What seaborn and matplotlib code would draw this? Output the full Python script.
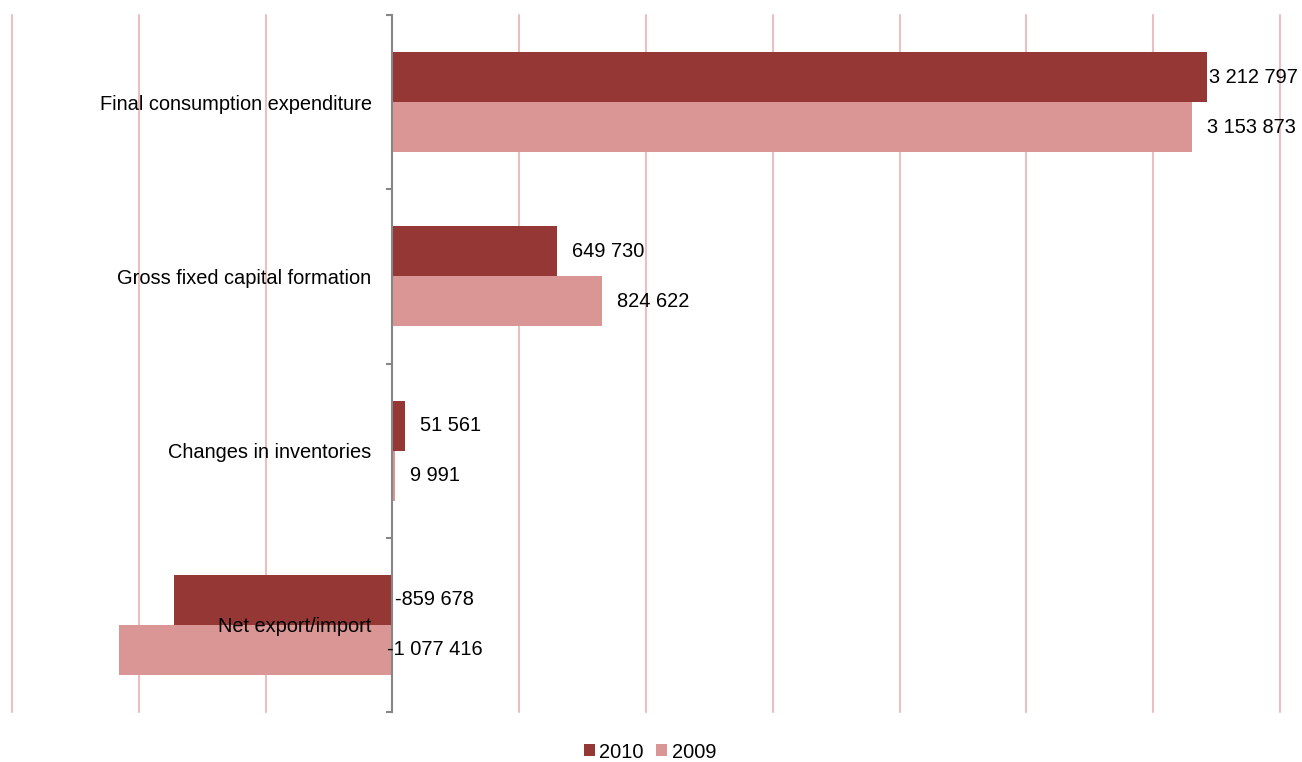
import matplotlib
matplotlib.use("Agg")
import matplotlib.pyplot as plt
import seaborn as sns
import pandas as pd
from matplotlib.patches import Patch

categories = ["Final consumption expenditure", "Gross fixed capital formation",
              "Changes in inventories", "Net export/import"]
values_2010 = [3212797, 649730, 51561, -859678]
values_2009 = [3153873, 824622, 9991, -1077416]
years = ["2010", "2009"]
colors = ["#953735", "#D99694"]

df = pd.DataFrame({
    "category": categories * 2,
    "value": values_2010 + values_2009,
    "year": [years[0]] * 4 + [years[1]] * 4,
})

sns.set_style("white")
plt.rcParams["font.family"] = ["Liberation Sans", "DejaVu Sans"]
plt.rcParams["text.color"] = "black"

FS = 14.4
W, H = 1302, 762
fig = plt.figure(figsize=(W / 100, H / 100), dpi=100)
ax = fig.add_axes([12 / W, 1 - 712 / H, (1280 - 12) / W, (712 - 15) / H])

sns.barplot(data=df, y="category", x="value", hue="year", hue_order=years,
            palette=colors, width=0.575, orient="h", ax=ax, legend=False,
            saturation=1, linewidth=0, zorder=2)

ax.set_xlim(-1500000, 3500000)
ax.set_ylim(3.5, -0.5)
ax.set_xlabel("")
ax.set_ylabel("")
ax.set_xticks([-1500000 + 500000 * i for i in range(11)])
ax.set_xticklabels([])
ax.tick_params(axis="x", length=0)
for xv in ax.get_xticks():
    ax.axvline(xv, color="#EBBFBF", lw=1.5, zorder=0, clip_on=False)

for s in ["top", "right", "bottom"]:
    ax.spines[s].set_visible(False)
ax.spines["left"].set_position(("data", 0))
ax.spines["left"].set_color("#868686")
ax.spines["left"].set_linewidth(1.5)
ax.spines["left"].set_zorder(3)
ax.yaxis.set_zorder(5)

ax.set_yticks(range(4))
ax.set_yticklabels(categories, fontsize=FS, color="black")
ax.tick_params(axis="y", which="major", left=False, length=0, pad=15)
ax.set_yticks([-0.5, 0.5, 1.5, 2.5, 3.5], minor=True)
ax.tick_params(axis="y", which="minor", left=True, length=4, width=1.5,
               color="#868686", direction="out")

fig.canvas.draw()
renderer = fig.canvas.get_renderer()
for cont in ax.containers:
    for bar in cont:
        val = int(round(bar.get_width()))
        yc = bar.get_y() + bar.get_height() / 2
        txt = ("-" if val < 0 else "") + f"{abs(val):,}".replace(",", " ")
        if val >= 0:
            t = ax.annotate(txt, xy=(val, yc), xytext=(15, 0), textcoords="offset pixels",
                            ha="left", va="center", fontsize=FS, color="black", zorder=6)
            fig.canvas.draw()
            bb = t.get_window_extent(renderer)
            if bb.x1 > W - 4:
                t.set_position((15 - (bb.x1 - (W - 4)), 0))
        else:
            ax.annotate(txt, xy=(0, yc), xytext=(42, 0), textcoords="offset pixels",
                        ha="center", va="center", fontsize=FS, color="black", zorder=6)

handles = [Patch(facecolor=c, edgecolor="none") for c in colors]
fig.legend(handles, years, loc="center", bbox_to_anchor=(650 / W, 1 - 752 / H),
           ncol=2, frameon=False, fontsize=FS, handlelength=0.55, handleheight=0.55,
           handletextpad=0.25, columnspacing=0.6)

fig.savefig("out.png", dpi=100)
